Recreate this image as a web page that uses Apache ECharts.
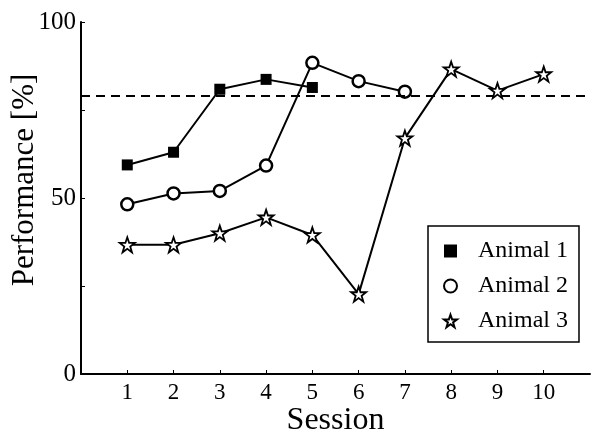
<!DOCTYPE html>
<html>
<head>
<meta charset="utf-8">
<script src="https://cdn.jsdelivr.net/npm/echarts@6/dist/echarts.min.js"></script>
<style>
  html, body { margin: 0; padding: 0; background: #fff; }
  #chart { width: 598px; height: 433px; }
</style>
</head>
<body>
<div id="chart"></div>
<script>
var sessions = [1, 2, 3, 4, 5, 6, 7, 8, 9, 10];
var animal1 = [59.4, 63.0, 80.9, 83.7, 81.4];
var animal2 = [48.2, 51.3, 52.0, 59.2, 88.4, 83.2, 80.2];
var animal3 = [36.7, 36.7, 40.0, 44.5, 39.5, 22.7, 67.0, 86.6, 80.5, 85.2];
var criterion = 79;
var yLabels = [0, 50, 100];
var seriesNames = ["Animal 1", "Animal 2", "Animal 3"];

var font = "Liberation Serif";
var star = "path://M50,2 L62,37 L98,37 L69,59 L80,95 L50,73 L20,95 L31,59 L2,37 L38,37 Z";

function pairs(vals) {
  return vals.map(function (v, i) { return [sessions[i], v]; });
}

var chart = echarts.init(document.getElementById("chart"), null, { renderer: "canvas" });

chart.setOption({
  animation: false,
  backgroundColor: "#fff",
  grid: { left: 81, right: 8, top: 22, bottom: 59, containLabel: false, outerBoundsMode: "none" },
  legend: {
    orient: "vertical",
    left: 428,
    top: 226,
    padding: [13, 11, 9, 15],
    itemGap: 11,
    itemWidth: 13,
    itemHeight: 13,
    borderColor: "#000",
    borderWidth: 1.5,
    textStyle: { fontFamily: font, fontSize: 24, lineHeight: 23, color: "#000", padding: [0, 0, 0, 16] },
    data: [
      { name: seriesNames[0], icon: "rect" },
      { name: seriesNames[1], icon: "circle" },
      { name: seriesNames[2], icon: star }
    ]
  },
  xAxis: {
    type: "value",
    min: 0,
    max: 11,
    interval: 1,
    name: "Session",
    nameLocation: "middle",
    nameGap: 31,
    nameMoveOverlap: false,
    nameTextStyle: { fontFamily: font, fontSize: 32, color: "#000" },
    splitLine: { show: false },
    axisLine: { lineStyle: { color: "#000", width: 2 } },
    axisTick: { inside: true, length: 4, customValues: sessions, lineStyle: { color: "#000", width: 1 } },
    axisLabel: { customValues: sessions, margin: 7, fontFamily: font, fontSize: 23, color: "#000" }
  },
  yAxis: {
    type: "value",
    min: 0,
    max: 100,
    interval: 25,
    name: "Performance [%]",
    nameLocation: "middle",
    nameGap: 41,
    nameMoveOverlap: false,
    nameTextStyle: { fontFamily: font, fontSize: 31, color: "#000", padding: [0, 0, 0, 36] },
    splitLine: { show: false },
    axisLine: { show: true, lineStyle: { color: "#000", width: 2 } },
    axisTick: { inside: true, length: 4, lineStyle: { color: "#000", width: 1 } },
    axisLabel: {
      margin: 5,
      fontFamily: font,
      fontSize: 25,
      color: "#000",
      formatter: function (v) { return yLabels.indexOf(v) >= 0 ? String(v) : ""; }
    }
  },
  series: [
    {
      name: seriesNames[0],
      type: "line",
      data: pairs(animal1),
      symbol: "rect",
      symbolSize: 11,
      lineStyle: { color: "#000", width: 2 },
      itemStyle: { color: "#000", borderColor: "#000", borderWidth: 0 },
      z: 3,
      markLine: {
        silent: true,
        symbol: "none",
        label: { show: false },
        lineStyle: { color: "#000", width: 2, type: [9, 6] },
        data: [{ yAxis: criterion }]
      }
    },
    {
      name: seriesNames[1],
      type: "line",
      data: pairs(animal2),
      symbol: "circle",
      symbolSize: 12,
      lineStyle: { color: "#000", width: 2 },
      itemStyle: { color: "#fff", borderColor: "#000", borderWidth: 2.5 },
      z: 4
    },
    {
      name: seriesNames[2],
      type: "line",
      data: pairs(animal3),
      symbol: star,
      symbolSize: 15,
      lineStyle: { color: "#000", width: 2 },
      itemStyle: { color: "#fff", borderColor: "#000", borderWidth: 1.8 },
      z: 5
    }
  ]
});
</script>
</body>
</html>
